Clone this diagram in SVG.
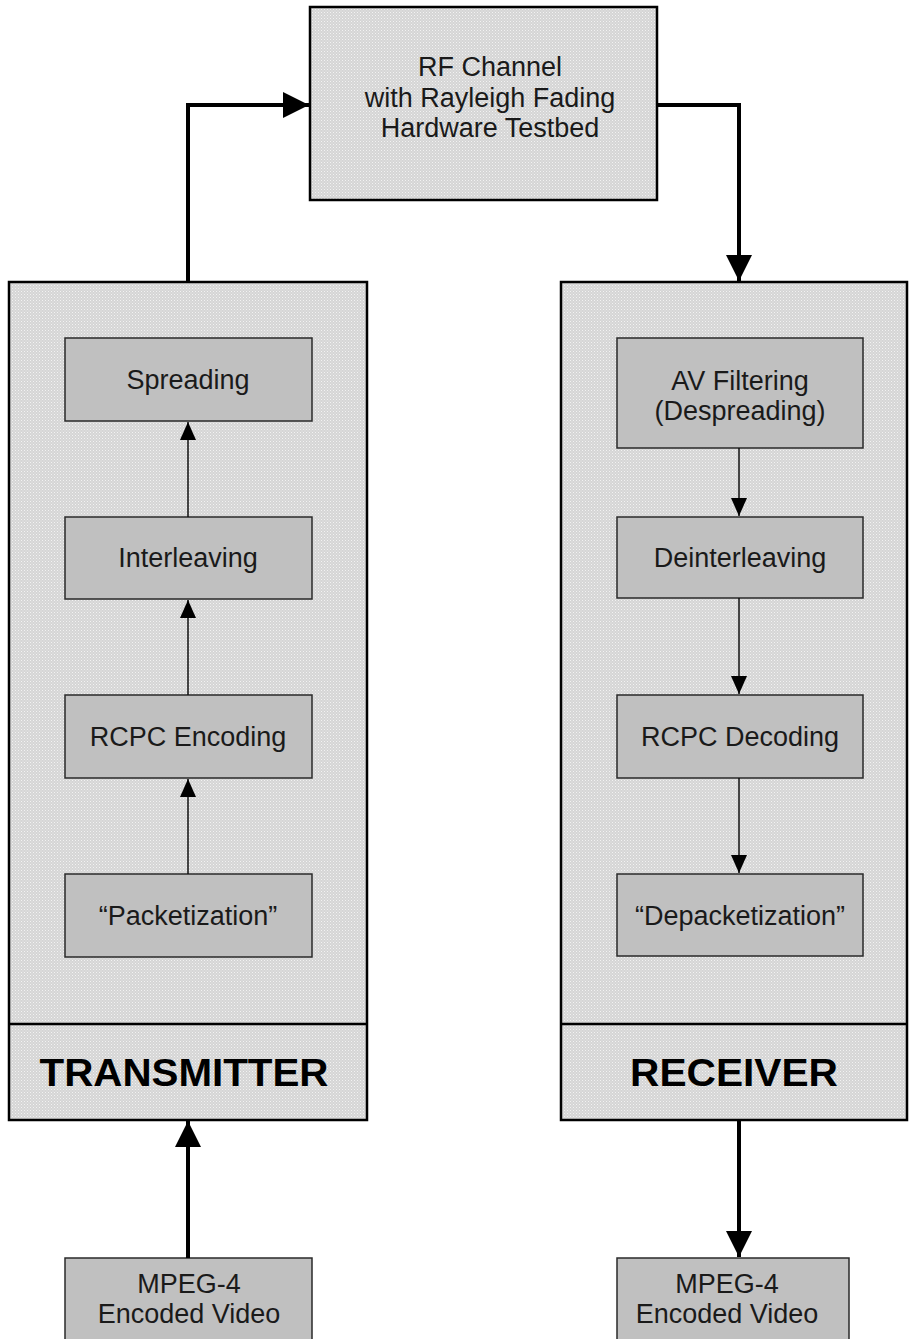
<svg xmlns="http://www.w3.org/2000/svg" width="909" height="1339" viewBox="0 0 909 1339">
  <defs>
    <!-- fine dotted halftone fill used on the outer panels and the channel block -->
    <pattern id="dots" width="3" height="3" patternUnits="userSpaceOnUse">
      <rect width="3" height="3" fill="#d5d5d5"/>
      <rect x="0" y="0" width="1" height="1" fill="#f2f2f2"/>
      <rect x="1.5" y="1.5" width="1" height="1" fill="#ececec"/>
    </pattern>
    <marker id="bigHead" markerUnits="userSpaceOnUse" markerWidth="26" markerHeight="26" viewBox="0 0 24 24" refX="24" refY="12" orient="auto">
      <path d="M0,0 L24,12 L0,24 Z" fill="#000"/>
    </marker>
    <marker id="smallHead" markerUnits="userSpaceOnUse" markerWidth="18" markerHeight="16" viewBox="0 0 18 16" refX="18" refY="8" orient="auto">
      <path d="M0,0 L18,8 L0,16 Z" fill="#000"/>
    </marker>
  </defs>
  <style>
    .panel { fill: url(#dots); stroke: #000; stroke-width: 2.5; }
    .block { fill: #c0c0c0; stroke: #2a2a2a; stroke-width: 1.5; }
    .io { fill: #c0c0c0; stroke: #2a2a2a; stroke-width: 1.5; }
    .lbl { font-family: "Liberation Sans", Arial, sans-serif; font-size: 27px; fill: #1a1a1a; text-anchor: middle; }
    .title { font-family: "Liberation Sans", Arial, sans-serif; font-size: 38px; font-weight: bold; fill: #000; text-anchor: middle; }
    .thick { fill: none; stroke: #000; stroke-width: 4; marker-end: url(#bigHead); }
    .thin { fill: none; stroke: #111; stroke-width: 1.5; marker-end: url(#smallHead); }
  </style>

  <rect width="909" height="1339" fill="#fff"/>

  <!-- channel block -->
  <g id="rf-channel">
    <rect class="panel" x="310" y="7" width="347" height="193"/>
    <text class="lbl" x="490" y="76">RF Channel</text>
    <text class="lbl" x="490" y="107">with Rayleigh Fading</text>
    <text class="lbl" x="490" y="137">Hardware Testbed</text>
  </g>

  <!-- transmitter panel -->
  <g id="transmitter">
    <rect class="panel" x="9" y="282" width="358" height="838"/>
    <line x1="9" y1="1024" x2="367" y2="1024" stroke="#000" stroke-width="2.5"/>
    <text class="title" x="184" y="1086" textLength="289" lengthAdjust="spacingAndGlyphs">TRANSMITTER</text>
  </g>
  <g id="spreading">
    <rect class="block" x="65" y="338" width="247" height="83"/>
    <text class="lbl" x="188" y="389">Spreading</text>
  </g>
  <g id="interleaving">
    <rect class="block" x="65" y="517" width="247" height="82"/>
    <text class="lbl" x="188" y="567">Interleaving</text>
  </g>
  <g id="rcpc-encoding">
    <rect class="block" x="65" y="695" width="247" height="83"/>
    <text class="lbl" x="188" y="746">RCPC Encoding</text>
  </g>
  <g id="packetization">
    <rect class="block" x="65" y="874" width="247" height="83"/>
    <text class="lbl" x="188" y="925">“Packetization”</text>
  </g>

  <!-- receiver panel -->
  <g id="receiver">
    <rect class="panel" x="561" y="282" width="346" height="838"/>
    <line x1="561" y1="1024" x2="907" y2="1024" stroke="#000" stroke-width="2.5"/>
    <text class="title" x="734" y="1086" textLength="208" lengthAdjust="spacingAndGlyphs">RECEIVER</text>
  </g>
  <g id="av-filtering">
    <rect class="block" x="617" y="338" width="246" height="110"/>
    <text class="lbl" x="740" y="390">AV Filtering</text>
    <text class="lbl" x="740" y="420">(Despreading)</text>
  </g>
  <g id="deinterleaving">
    <rect class="block" x="617" y="517" width="246" height="81"/>
    <text class="lbl" x="740" y="567">Deinterleaving</text>
  </g>
  <g id="rcpc-decoding">
    <rect class="block" x="617" y="695" width="246" height="83"/>
    <text class="lbl" x="740" y="746">RCPC Decoding</text>
  </g>
  <g id="depacketization">
    <rect class="block" x="617" y="874" width="246" height="82"/>
    <text class="lbl" x="740" y="925">“Depacketization”</text>
  </g>

  <!-- video source / sink -->
  <g id="video-in">
    <rect class="io" x="65" y="1258" width="247" height="90"/>
    <text class="lbl" x="189" y="1293">MPEG-4</text>
    <text class="lbl" x="189" y="1323">Encoded Video</text>
  </g>
  <g id="video-out">
    <rect class="io" x="617" y="1258" width="232" height="90"/>
    <text class="lbl" x="727" y="1293">MPEG-4</text>
    <text class="lbl" x="727" y="1323">Encoded Video</text>
  </g>

  <!-- connectors -->
  <g id="connectors">
    <path class="thick" d="M188,282 L188,105 L309,105"/>
    <path class="thick" d="M657,105 L739,105 L739,281"/>
    <path class="thick" d="M188,1258 L188,1121"/>
    <path class="thick" d="M739,1121 L739,1257"/>

    <path class="thin" d="M188,517 L188,422"/>
    <path class="thin" d="M188,695 L188,600"/>
    <path class="thin" d="M188,874 L188,779"/>

    <path class="thin" d="M739,448 L739,516"/>
    <path class="thin" d="M739,598 L739,694"/>
    <path class="thin" d="M739,778 L739,873"/>
  </g>
</svg>
